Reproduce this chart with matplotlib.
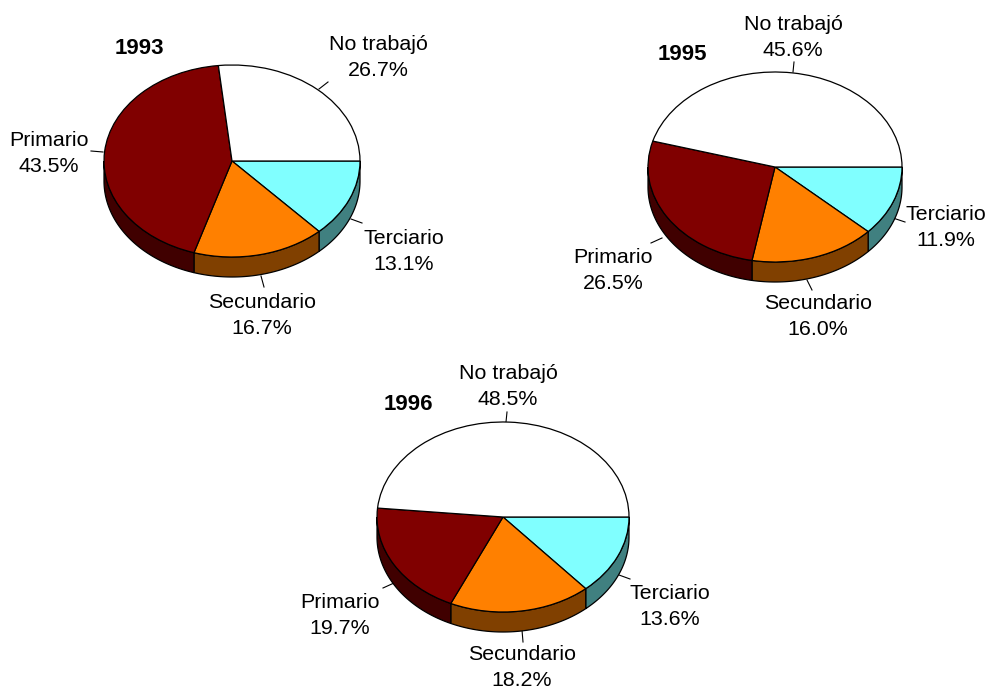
import numpy as np
import matplotlib
matplotlib.use("Agg")
import matplotlib.pyplot as plt
from matplotlib.patches import Polygon

W, H = 988, 690
plt.rcParams['font.family'] = ['Liberation Sans', 'DejaVu Sans']

categories = ["Terciario", "Secundario", "Primario", "No trabajó"]
years = ["1993", "1995", "1996"]
values_1993 = [13.1, 16.7, 43.5, 26.7]
values_1995 = [11.9, 16.0, 26.5, 45.6]
values_1996 = [13.6, 18.2, 19.7, 48.5]
top_colors = ["#80FFFF", "#FF8000", "#800000", "#FFFFFF"]
side_colors = ["#408080", "#804000", "#400000", "#808080"]

# layout in pixels: centre, radii, depth
layouts = [
    dict(c=(232, 161), r=(128, 96), d=20, title=(139, 48),
         labels=[(404, 251.5), (262, 315.5), (49, 153.5), (378, 57.5)],
         leaders=[((351, 219), (362, 223)), ((261, 276), (264, 287)), ((103, 152), (91, 151)), ((319, 89), (328, 82))]),
    dict(c=(775, 167), r=(127, 95), d=20, title=(682, 54),
         labels=[(946, 227.5), (818, 316.5), (613, 270.5), (793, 37.5)],
         leaders=[((893, 218), (905, 222)), ((807, 280), (812, 290)), ((662, 238), (651, 243)), ((793, 72), (794, 62))]),
    dict(c=(503, 517), r=(126, 95), d=20, title=(408, 404),
         labels=[(670, 606.5), (522, 667.5), (340, 615.5), (508, 386.5)],
         leaders=[((619, 575), (630, 579)), ((522, 630), (523, 642)), ((394, 583), (383, 588)), ((506, 422), (507, 412))]),
]
all_values = [values_1993, values_1995, values_1996]

fig = plt.figure(figsize=(W / 100, H / 100), dpi=100, facecolor="white")
bg = fig.add_axes([0, 0, 1, 1])
bg.set_xlim(0, W)
bg.set_ylim(H, 0)
bg.axis("off")

for year, vals, L in zip(years, all_values, layouts):
    cx, cy = L["c"]
    rx, ry = L["r"]
    d = L["d"]
    ax = fig.add_axes([(cx - rx - 2) / W, 1 - (cy + ry + d + 2) / H,
                       (2 * rx + 4) / W, (2 * ry + d + 4) / H])
    ax.pie(vals, colors=top_colors, startangle=0, counterclock=False, radius=1,
           wedgeprops=dict(edgecolor="black", linewidth=0.9))
    ax.set_aspect("auto")
    ax.set_xlim(-(rx + 2) / rx, (rx + 2) / rx)
    ax.set_ylim(-(ry + d + 2) / ry, (ry + 2) / ry)
    ax.patch.set_alpha(0)
    ax.set_frame_on(False)
    depth = d / ry

    # side walls
    edges = -np.cumsum([0] + vals) * 3.6
    for i in range(len(vals)):
        a0, a1 = edges[i], edges[i + 1]
        lo, hi = max(a1, -180), min(a0, 0)
        if lo >= hi:
            continue
        t = np.radians(np.linspace(hi, lo, 80))
        x, y = np.cos(t), np.sin(t)
        pts = np.r_[np.c_[x, y], np.c_[x, y - depth][::-1]]
        ax.add_patch(Polygon(pts, closed=True, facecolor=side_colors[i],
                             edgecolor="black", linewidth=0.9, zorder=0.5))

    bg.text(*L["title"], year, fontsize=16, fontweight="bold", ha="center", va="center")
    for cat, v, p, seg in zip(categories, vals, L["labels"], L["leaders"]):
        bg.text(p[0], p[1], f"{cat}\n{v:.1f}%", fontsize=15.4, ha="center", va="center",
                linespacing=1.48, color="black")
        bg.plot([seg[0][0], seg[1][0]], [seg[0][1], seg[1][1]], color="black", lw=0.8)

fig.savefig("out.png", dpi=100)
